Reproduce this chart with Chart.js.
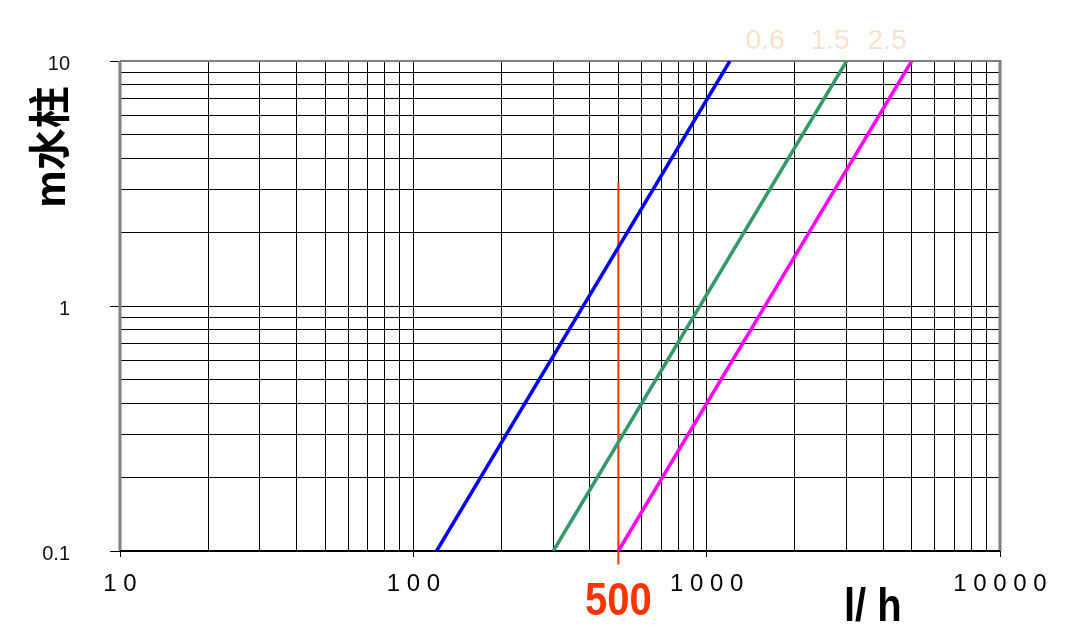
<!DOCTYPE html>
<html>
<head>
<meta charset="utf-8">
<script src="https://cdn.jsdelivr.net/npm/chart.js@4/dist/chart.umd.min.js"></script>
<style>
    html, body { margin: 0; padding: 0; background: #fff; }
    #chart-box { width: 1076px; height: 634px; }
</style>
</head>
<body>
<div id="chart-box"><canvas id="flow-chart" width="1076" height="634"></canvas></div>
<script>
// flow (l/h) vs head loss (m water column), log-log
const xGrid = [10, 20, 30, 40, 50, 60, 70, 80, 90,
    100, 200, 300, 400, 500, 600, 700, 800, 900,
    1000, 2000, 3000, 4000, 5000, 6000, 7000, 8000, 9000, 10000];
const yGrid = [0.1, 0.2, 0.3, 0.4, 0.5, 0.6, 0.7, 0.8, 0.9,
    1, 2, 3, 4, 5, 6, 7, 8, 9, 10];

const xMajor = [10, 100, 1000, 10000];
const xMajorLabels = ["1 0", "1 0 0", "1 0 0 0", "1 0 0 0 0"];
const yMajor = [0.1, 1, 10];
const yMajorLabels = ["0.1", "1", "10"];

const seriesNames = ["0.6", "1.5", "2.5"];
const seriesFlow = [[120, 1200], [300, 3000], [500, 5000]];
const seriesHead = [[0.1, 10], [0.1, 10], [0.1, 10]];

const markFlow = [500, 500];
const markHead = [3.2, 0.088];

const colors = {
    lines: ["#0000FF", "#339966", "#FF00FF"],
    mark: "#FF3300",
    peach: "#FFE0C8",
    frame: "#808080"
};
const FONT = "'Liberation Sans', Arial, sans-serif";

const datasets = seriesNames.map((name, i) => ({
    label: name,
    data: seriesFlow[i].map((x, j) => ({ x: x, y: seriesHead[i][j] })),
    borderColor: colors.lines[i],
    borderWidth: 3.5,
    pointRadius: 0,
    tension: 0
}));
datasets.push({
    label: "500",
    data: markFlow.map((x, j) => ({ x: x, y: markHead[j] })),
    borderColor: colors.mark,
    borderWidth: 2,
    pointRadius: 0,
    clip: false
});

const isMajor = (list, v) => list.some(m => Math.abs(m - v) < 1e-9);

// frame round the plot area and the free text
const decorations = {
    id: "decorations",
    beforeDatasetsDraw(chart) {
        const a = chart.chartArea;
        const c = chart.ctx;
        c.save();
        c.strokeStyle = colors.frame;
        c.lineWidth = 3;
        c.beginPath();
        c.moveTo(a.left, a.bottom);
        c.lineTo(a.left, a.top);
        c.moveTo(a.right, a.top);
        c.lineTo(a.right, a.bottom);
        c.stroke();
        c.lineWidth = 2;
        c.beginPath();
        c.moveTo(a.left, a.top);
        c.lineTo(a.right + 1.5, a.top);
        c.stroke();
        c.strokeStyle = "#000";
        c.beginPath();
        c.moveTo(a.left, a.bottom);
        c.lineTo(a.right, a.bottom);
        c.stroke();
        c.restore();
    },
    afterDraw(chart) {
        const c = chart.ctx;
        const xs = chart.scales.x;
        c.save();
        // series names above the plot
        c.fillStyle = colors.peach;
        c.font = "28px " + FONT;
        c.textAlign = "center";
        c.textBaseline = "alphabetic";
        const nameX = [765, 830, 887];
        seriesNames.forEach((n, i) => c.fillText(n, nameX[i], 49));

        // value of the marker line
        c.save();
        c.fillStyle = colors.mark;
        c.font = "bold 40px " + FONT;
        c.translate(xs.getPixelForValue(markFlow[0]), 615);
        c.scale(1, 1.15);
        c.fillText(String(markFlow[0]), 0, 0);
        c.restore();

        // axis titles
        c.save();
        c.fillStyle = "#000";
        c.font = "bold 40px " + FONT;
        c.textAlign = "left";
        c.translate(844, 621);
        c.scale(1, 1.14);
        c.fillText("l/ h", 0, 0);
        c.restore();

        c.save();
        c.fillStyle = "#000";
        c.font = "bold 42px " + FONT + ", 'Noto Sans CJK SC'";
        c.translate(53, 147);
        c.rotate(-Math.PI / 2);
        c.textAlign = "center";
        c.textBaseline = "middle";
        c.fillText("m水柱", 0, 0);
        c.restore();

        c.restore();
    }
};

const options = {
    type: "line",
    data: { datasets: datasets },
    options: {
        responsive: false,
        animation: false,
        layout: {
            padding: { top: 61, right: 76, left: 0, bottom: 0 }
        },
        plugins: {
            legend: { display: false },
            tooltip: { enabled: false }
        },
        scales: {
            x: {
                type: "logarithmic",
                min: 10,
                max: 10000,
                afterBuildTicks: scale => {
                    scale.ticks = xGrid.map(v => ({ value: v }));
                },
                afterFit: scale => { scale.height = 83; },
                border: { display: false },
                grid: {
                    color: "#000",
                    lineWidth: 1,
                    tickLength: 6,
                    tickColor: ctx => isMajor(xMajor, ctx.tick.value) ? "#000" : "rgba(0,0,0,0)"
                },
                ticks: {
                    autoSkip: false,
                    maxRotation: 0,
                    padding: 13,
                    color: "#000",
                    font: { family: FONT, size: 24 },
                    callback: value => {
                        const k = xMajor.findIndex(m => Math.abs(m - value) < 1e-9);
                        return k >= 0 ? xMajorLabels[k] : "";
                    }
                }
            },
            y: {
                type: "logarithmic",
                min: 0.1,
                max: 10,
                afterBuildTicks: scale => {
                    scale.ticks = yGrid.map(v => ({ value: v }));
                },
                afterFit: scale => { scale.width = 120; },
                border: { display: false },
                grid: {
                    color: "#000",
                    lineWidth: 1,
                    tickLength: 10,
                    tickColor: ctx => isMajor(yMajor, ctx.tick.value) ? "#000" : "rgba(0,0,0,0)"
                },
                ticks: {
                    autoSkip: false,
                    padding: 40,
                    labelOffset: 3,
                    color: "#111",
                    font: { family: FONT, size: 20 },
                    callback: value => {
                        const k = yMajor.findIndex(m => Math.abs(m - value) < 1e-9);
                        return k >= 0 ? yMajorLabels[k] : "";
                    }
                }
            }
        }
    },
    plugins: [decorations]
};

window.onload = function() {
    const ctx = document.getElementById("flow-chart").getContext("2d");
    window.flowChart = new Chart(ctx, options);
};
</script>
</body>
</html>
